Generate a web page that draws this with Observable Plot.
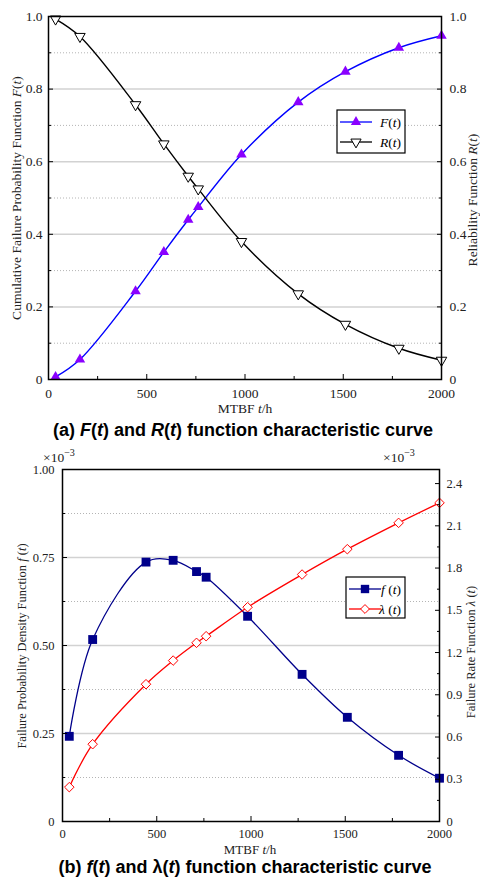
<!DOCTYPE html>
<html><head><meta charset="utf-8">
<script src="https://cdn.jsdelivr.net/npm/d3@7"></script>
<script src="https://cdn.jsdelivr.net/npm/@observablehq/plot@0.6"></script>
<style>
body{margin:0;background:#fff}
#wrap{position:relative;width:480px;height:887px;overflow:hidden}
#wrap svg{position:absolute;left:0}
</style>
</head><body><div id="wrap"></div>
<script>
// ---- data ----
const mtbf = [36, 160, 443, 587, 711, 762, 982, 1271, 1511, 1783, 2000];
const Fvals = [0.007, 0.055, 0.243, 0.351, 0.440, 0.475, 0.620, 0.764, 0.848, 0.914, 0.947];
const Rvals = [0.993, 0.945, 0.757, 0.649, 0.560, 0.525, 0.380, 0.236, 0.152, 0.086, 0.053];
const fVals = [0.242, 0.517, 0.737, 0.742, 0.710, 0.694, 0.583, 0.418, 0.296, 0.188, 0.123];      // ×10^-3
const lambdaVals = [0.244, 0.549, 0.975, 1.143, 1.269, 1.316, 1.522, 1.754, 1.934, 2.121, 2.263]; // ×10^-3

const xTicks = [0, 500, 1000, 1500, 2000];
const xTickLabels = ["0", "500", "1000", "1500", "2000"];
const xMinor = [250, 750, 1250, 1750];
const yTicksA = [0, 0.2, 0.4, 0.6, 0.8, 1.0];
const yTickLabelsA = ["0", "0.2", "0.4", "0.6", "0.8", "1.0"];
const yMinorA = [0.1, 0.3, 0.5, 0.7, 0.9];
const yTicksBL = [0, 0.25, 0.5, 0.75, 1.0];
const yTickLabelsBL = ["0", "0.25", "0.50", "0.75", "1.00"];
const yMinorBL = [0.125, 0.375, 0.625, 0.875];
const yTicksBR = [0, 0.3, 0.6, 0.9, 1.2, 1.5, 1.8, 2.1, 2.4];
const yTickLabelsBR = ["0", "0.3", "0.6", "0.9", "1.2", "1.5", "1.8", "2.1", "2.4"];
const yMinorBR = [0.15, 0.45, 0.75, 1.05, 1.35, 1.65, 1.95, 2.25];
const lambdaMax = 2.5;
const fMax = 1.0;

const dataA = mtbf.map((t, i) => ({t, F: Fvals[i], R: Rvals[i]}));
const dataB = mtbf.map((t, i) => ({t, f: fVals[i] / fMax, lam: lambdaVals[i] / lambdaMax}));

const serif = "'Liberation Serif','Times New Roman',serif";
const sans = "'Liberation Sans',Arial,sans-serif";
const ink = "#222";

const triDown = {draw(ctx, size) {
  const y = -Math.sqrt(size / (Math.sqrt(3) * 3));
  ctx.moveTo(0, -2 * y); ctx.lineTo(-Math.sqrt(3) * y, y); ctx.lineTo(Math.sqrt(3) * y, y); ctx.closePath();
}};

const lookup = (ticks, labels, k = 1) => d => {
  const i = ticks.findIndex(v => Math.abs(v / k - d) < 1e-6);
  return i >= 0 ? labels[i] : "";
};

function axes(o) {
  return [
    Plot.axisX(xTicks, {anchor: "bottom", tickSize: -5, tickPadding: o.xPad, tickFormat: lookup(xTicks, xTickLabels), label: null, fontSize: o.fs, fill: ink, fontFamily: serif}),
    Plot.axisX(xMinor, {anchor: "bottom", tickSize: -3, tickFormat: () => "", label: null}),
    Plot.axisY(o.lt, {anchor: "left", tickSize: -5, tickPadding: o.lPad, tickFormat: lookup(o.lt, o.ll), label: null, fontSize: o.fs, fill: ink, fontFamily: serif}),
    Plot.axisY(o.lm, {anchor: "left", tickSize: -3, tickFormat: () => "", label: null}),
    Plot.axisY(o.rt.map(v => v / o.rk), {anchor: "right", tickSize: -5, tickPadding: o.rPad, tickFormat: lookup(o.rt, o.rl, o.rk), label: null, fontSize: o.fs, fill: ink, fontFamily: serif}),
    Plot.axisY(o.rm.map(v => v / o.rk), {anchor: "right", tickSize: -3, tickFormat: () => "", label: null})
  ];
}

// ---------- Panel (a) ----------
const plotA = Plot.plot({
  width: 480, height: 440,
  marginTop: 16, marginBottom: 61, marginLeft: 48, marginRight: 39,
  x: {domain: [0, 2000]},
  y: {domain: [0, 1]},
  style: {fontFamily: serif, background: "transparent", overflow: "visible"},
  marks: [
    Plot.gridY(yMinorA, {stroke: "#b4b4b4", strokeOpacity: 1, strokeDasharray: "1,2"}),
    Plot.gridY(yTicksA.slice(1, -1), {stroke: "#d2d2d2", strokeOpacity: 1, strokeWidth: 1.5}),
    Plot.line(dataA, {x: "t", y: "F", curve: "catmull-rom", stroke: "#0000ff", strokeWidth: 1.4}),
    Plot.line(dataA, {x: "t", y: "R", curve: "catmull-rom", stroke: "#000", strokeWidth: 1.4}),
    Plot.dot(dataA, {x: "t", y: "F", symbol: "triangle", r: 3.9, fill: "#8a00ff", stroke: "none"}),
    Plot.dot(dataA, {x: "t", y: "R", symbol: triDown, r: 3.9, fill: "white", stroke: "#000", strokeWidth: 1}),
    ...axes({xPad: 14, lPad: 11, rPad: 13, fs: 13.5, lt: yTicksA, ll: yTickLabelsA, lm: yMinorA, rt: yTicksA, rl: yTickLabelsA, rm: yMinorA, rk: 1}),
    Plot.frame({stroke: "#000", strokeWidth: 1.5})
  ]
});
plotA.style.top = "0px";

// ---------- Panel (b) ----------
const plotB = Plot.plot({
  width: 480, height: 447,
  marginTop: 29, marginBottom: 66, marginLeft: 62, marginRight: 41,
  x: {domain: [0, 2000]},
  y: {domain: [0, 1]},
  style: {fontFamily: serif, background: "transparent", overflow: "visible"},
  marks: [
    Plot.gridY(yMinorBL, {stroke: "#b4b4b4", strokeOpacity: 1, strokeDasharray: "1,2"}),
    Plot.gridY(yTicksBL.slice(1, -1), {stroke: "#d2d2d2", strokeOpacity: 1, strokeWidth: 1.5}),
    Plot.line(dataB, {x: "t", y: "f", curve: "catmull-rom", stroke: "#00008b", strokeWidth: 1.3}),
    Plot.line(dataB, {x: "t", y: "lam", curve: "catmull-rom", stroke: "#ff0000", strokeWidth: 1.3}),
    Plot.dot(dataB, {x: "t", y: "f", symbol: "square", r: 5, fill: "#00008b", stroke: "none"}),
    Plot.dot(dataB, {x: "t", y: "lam", symbol: "diamond2", r: 4.3, fill: "white", stroke: "#ff0000", strokeWidth: 1}),
    ...axes({xPad: 13, lPad: 13, rPad: 12, fs: 12.5, lt: yTicksBL, ll: yTickLabelsBL, lm: yMinorBL, rt: yTicksBR, rl: yTickLabelsBR, rm: yMinorBR, rk: lambdaMax}),
    Plot.frame({stroke: "#000", strokeWidth: 1.5})
  ]
});
plotB.style.top = "440px";

const wrap = document.getElementById("wrap");
wrap.appendChild(plotA);
wrap.appendChild(plotB);

// ---------- text helpers ----------
function richText(svg, x, y, parts, {size = 13, family = serif, weight = "normal", rotate = 0, anchor = "middle", fill = ink} = {}) {
  const t = d3.select(svg).append("text")
    .attr("transform", `translate(${x},${y}) rotate(${rotate})`)
    .attr("text-anchor", anchor).attr("dominant-baseline", "central")
    .attr("font-family", family).attr("font-size", size).attr("font-weight", weight).attr("fill", fill);
  for (const p of parts) {
    const s = t.append("tspan").text(p[0]);
    if (p[1]) s.attr("font-style", "italic");
  }
  return t;
}
function times10(svg, x, y, size) {
  const t = d3.select(svg).append("text").attr("x", x).attr("y", y)
    .attr("font-family", serif).attr("font-size", size).attr("fill", ink).attr("dominant-baseline", "central");
  t.append("tspan").text("\u00d710");
  t.append("tspan").attr("dy", -5).attr("font-size", size * 0.75).text("\u22123");
}
function legend(svg, x, y, w, h, items, size) {
  const g = d3.select(svg).append("g");
  g.append("rect").attr("x", x).attr("y", y).attr("width", w).attr("height", h)
    .attr("fill", "white").attr("stroke", "#000").attr("stroke-width", 1.2);
  items.forEach((it, i) => {
    const cy = y + 12 + i * 20;
    g.append("line").attr("x1", x + 3).attr("x2", x + 35).attr("y1", cy).attr("y2", cy)
      .attr("stroke", it.stroke).attr("stroke-width", 1.3);
    g.append("path").attr("transform", `translate(${x + 19},${cy})`)
      .attr("d", d3.symbol(it.symbol, it.size)())
      .attr("fill", it.fill).attr("stroke", it.mstroke || "none");
    const t = g.append("text").attr("x", x + w - 4).attr("y", cy).attr("text-anchor", "end")
      .attr("dominant-baseline", "central").attr("font-family", serif).attr("font-size", size).attr("fill", "#000");
    it.label.forEach(p => { const s = t.append("tspan").text(p[0]); if (p[1]) s.attr("font-style", "italic"); });
  });
}

// Panel (a) labels
richText(plotA, 16, 198, [["Cumulative Failure Probability Function "], ["F", 1], ["("], ["t", 1], [")"]], {size: 13.5, rotate: -90});
richText(plotA, 472, 200, [["Reliability Function "], ["R", 1], ["("], ["t", 1], [")"]], {size: 13.5, rotate: -90});
richText(plotA, 245, 408, [["MTBF "], ["t", 1], ["/h"]], {size: 13.5});
richText(plotA, 243, 430, [["(a) "], ["F", 1], ["("], ["t", 1], [") and "], ["R", 1], ["("], ["t", 1], [") function characteristic curve"]], {size: 18, family: sans, weight: "bold", fill: "#000"});
legend(plotA, 337, 110, 68, 43, [
  {stroke: "#0000ff", symbol: d3.symbolTriangle, size: 45, fill: "#8a00ff", label: [["F", 1], ["("], ["t", 1], [")"]]},
  {stroke: "#000", symbol: triDown, size: 45, fill: "white", mstroke: "#000", label: [["R", 1], ["("], ["t", 1], [")"]]}
], 13.5);

// Panel (b) labels
times10(plotB, 59, 17, 13.5);
times10(plotB, 399, 17, 13.5);
richText(plotB, 22, 206, [["Failure Probability Density Function "], ["f", 1], [" ("], ["t", 1], [")"]], {size: 12.5, rotate: -90});
richText(plotB, 471, 212, [["Failure Rate Function "], ["\u03bb", 1], [" ("], ["t", 1], [")"]], {size: 12.5, rotate: -90});
richText(plotB, 250, 409, [["MTBF "], ["t", 1], ["/h"]], {size: 13});
richText(plotB, 245, 427, [["(b) "], ["f", 1], ["("], ["t", 1], [") and \u03bb("], ["t", 1], [") function characteristic curve"]], {size: 18, family: sans, weight: "bold", fill: "#000"});
legend(plotB, 346, 137, 59, 41, [
  {stroke: "#00008b", symbol: d3.symbolSquare, size: 70, fill: "#00008b", label: [["f", 1], [" ("], ["t", 1], [")"]]},
  {stroke: "#ff0000", symbol: d3.symbolDiamond2, size: 50, fill: "white", mstroke: "#ff0000", label: [["\u03bb", 1], [" ("], ["t", 1], [")"]]}
], 13.5);
</script>
</body></html>
